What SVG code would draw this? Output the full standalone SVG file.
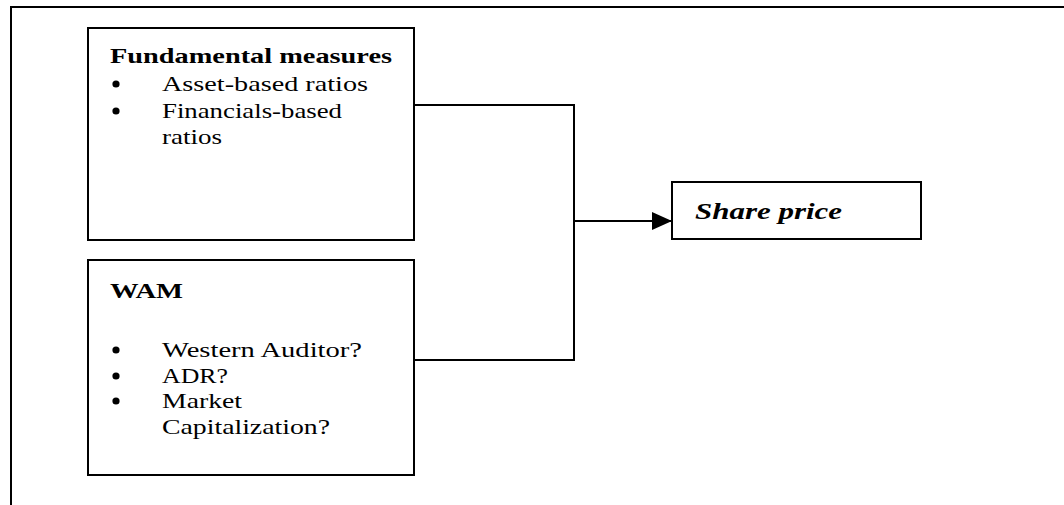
<svg xmlns="http://www.w3.org/2000/svg" width="1064" height="505" viewBox="0 0 1064 505">
  <style>
    .box { fill: #fff; stroke: #000; stroke-width: 2; }
    .line { fill: none; stroke: #000; stroke-width: 2; }
    .txt { font-family: "Liberation Serif", "Times New Roman", serif; font-size: 22px; fill: #000; }
    .head { font-weight: bold; }
    .share { font-weight: bold; font-style: italic; font-size: 24px; }
    .dot { fill: #000; }
  </style>
  <defs>
    <marker id="arrow" markerWidth="20" markerHeight="18" refX="20" refY="9" orient="auto" markerUnits="userSpaceOnUse">
      <path d="M0,0 L20,9 L0,18 Z" fill="#000"/>
    </marker>
  </defs>
  <rect width="1064" height="505" fill="#fff"/>

  <!-- frame (top and left edges only) -->
  <path class="line" d="M1064,7 L11,7 L11,505"/>

  <!-- connectors -->
  <g id="connectors">
    <path class="line" d="M414,105 L574,105 L574,360 L414,360"/>
    <path class="line" d="M574,221 L672,221" marker-end="url(#arrow)"/>
  </g>

  <g id="fundamental">
    <rect class="box" x="88" y="28" width="326" height="212"/>
    <text class="txt head" x="110" y="63" textLength="282" lengthAdjust="spacingAndGlyphs">Fundamental measures</text>
    <circle class="dot" cx="116" cy="84" r="3.6"/>
    <text class="txt" x="162" y="91" textLength="206" lengthAdjust="spacingAndGlyphs">Asset-based ratios</text>
    <circle class="dot" cx="116" cy="111" r="3.6"/>
    <text class="txt" x="162" y="118" textLength="180" lengthAdjust="spacingAndGlyphs">Financials-based</text>
    <text class="txt" x="162" y="144" textLength="60" lengthAdjust="spacingAndGlyphs">ratios</text>
  </g>

  <g id="wam">
    <rect class="box" x="88" y="260" width="326" height="215"/>
    <text class="txt head" x="110" y="298" textLength="73" lengthAdjust="spacingAndGlyphs">WAM</text>
    <circle class="dot" cx="116" cy="350" r="3.6"/>
    <text class="txt" x="162" y="357" textLength="200" lengthAdjust="spacingAndGlyphs">Western Auditor?</text>
    <circle class="dot" cx="116" cy="376" r="3.6"/>
    <text class="txt" x="162" y="383" textLength="66" lengthAdjust="spacingAndGlyphs">ADR?</text>
    <circle class="dot" cx="116" cy="401" r="3.6"/>
    <text class="txt" x="162" y="408" textLength="80" lengthAdjust="spacingAndGlyphs">Market</text>
    <text class="txt" x="162" y="434" textLength="168" lengthAdjust="spacingAndGlyphs">Capitalization?</text>
  </g>

  <g id="share-price">
    <rect class="box" x="672" y="182" width="249" height="57"/>
    <text class="txt share" x="695" y="219" textLength="147" lengthAdjust="spacingAndGlyphs">Share price</text>
  </g>
</svg>
